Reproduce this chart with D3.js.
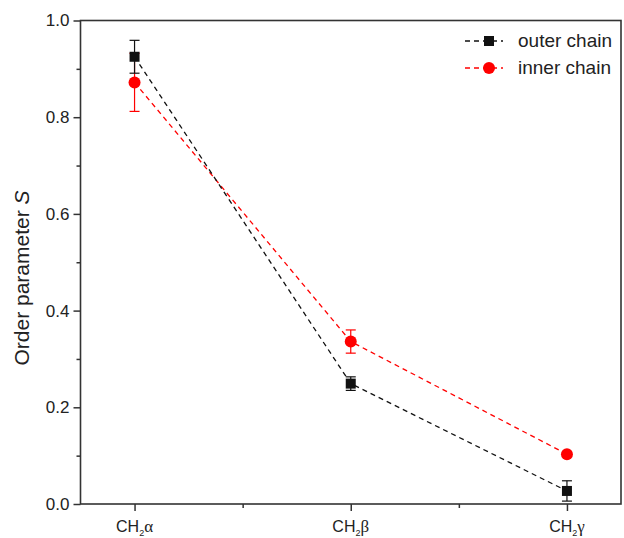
<!DOCTYPE html>
<html>
<head>
<meta charset="utf-8">
<script src="https://cdn.jsdelivr.net/npm/d3@7"></script>
<style>
  body { margin: 0; background: #fff; }
  svg text { font-family: "Liberation Sans", Arial, sans-serif; fill: #222; }
</style>
</head>
<body>
<div id="chart"></div>
<script>
// data
var positions = ["α", "β", "γ"];
var outerValues = [0.925, 0.249, 0.027];
var outerErrors = [0.034, 0.014, 0.021];
var innerValues = [0.872, 0.336, 0.103];
var innerErrors = [0.060, 0.024, 0.004];
var yTicks = [0, 0.2, 0.4, 0.6, 0.8, 1.0];

var width = 624, height = 538;
var plotLeft = 80.5, plotRight = 621, plotTop = 20.5, plotBottom = 504;

var svg = d3.select('#chart').append('svg')
  .attr('width', width)
  .attr('height', height);

var x = d3.scaleLinear().domain([0.75, 3.25]).range([plotLeft, plotRight]);
var y = d3.scaleLinear().domain([0, 1]).range([plotBottom, plotTop]);

var axisColor = '#333';

// frame
svg.append('rect')
  .attr('x', plotLeft).attr('y', plotTop)
  .attr('width', plotRight - plotLeft).attr('height', plotBottom - plotTop)
  .attr('fill', 'none')
  .attr('stroke', axisColor)
  .attr('stroke-width', 1.6);

// y axis: major + minor
var yAxis = d3.axisLeft(y).tickValues(yTicks).tickFormat(d3.format('.1f'))
  .tickSizeInner(7).tickSizeOuter(0).tickPadding(4);
var gy = svg.append('g').attr('transform', 'translate(' + plotLeft + ',0)').call(yAxis);
gy.select('.domain').remove();
gy.selectAll('.tick line').attr('stroke', axisColor).attr('stroke-width', 1.5);
gy.selectAll('.tick text').style('font-size', '17px').attr('fill', '#222');

var gyMinor = svg.append('g').attr('transform', 'translate(' + plotLeft + ',0)')
  .call(d3.axisLeft(y).tickValues([0.1, 0.3, 0.5, 0.7, 0.9]).tickSize(4).tickFormat(''));
gyMinor.select('.domain').remove();
gyMinor.selectAll('.tick line').attr('stroke', axisColor).attr('stroke-width', 1.5);

// x axis
var xAxis = d3.axisBottom(x).tickValues([1, 2, 3]).tickFormat('')
  .tickSizeInner(7).tickSizeOuter(0);
var gx = svg.append('g').attr('transform', 'translate(0,' + plotBottom + ')').call(xAxis);
gx.select('.domain').remove();
gx.selectAll('.tick line').attr('stroke', axisColor).attr('stroke-width', 1.5);

var gxMinor = svg.append('g').attr('transform', 'translate(0,' + plotBottom + ')')
  .call(d3.axisBottom(x).tickValues([1.5, 2.5]).tickSize(4).tickFormat(''));
gxMinor.select('.domain').remove();
gxMinor.selectAll('.tick line').attr('stroke', axisColor).attr('stroke-width', 1.5);

// x labels CH2α etc
positions.forEach(function(p, i) {
  var t = svg.append('text')
    .attr('x', x(i + 1))
    .attr('y', 532)
    .attr('text-anchor', 'middle')
    .style('font-size', '16px');
  t.append('tspan').text('CH');
  t.append('tspan').attr('dy', 4).style('font-size', '9px').text('2');
  t.append('tspan').attr('dy', -4)
    .style('font-family', '"Liberation Serif", "Times New Roman", serif')
    .style('font-size', '17px')
    .text(p);
});

// y label
var yl = svg.append('text')
  .attr('transform', 'translate(29,' + 278 + ') rotate(-90)')
  .attr('text-anchor', 'middle')
  .style('font-size', '21px');
yl.append('tspan').text('Order parameter ');
yl.append('tspan').style('font-style', 'italic').text('S');

function drawSeries(values, errors, color, shape) {
  var pts = values.map(function(v, i) { return { x: i + 1, y: v, e: errors[i] }; });
  var line = d3.line().x(function(d) { return x(d.x); }).y(function(d) { return y(d.y); });

  svg.append('path')
    .attr('d', line(pts))
    .attr('fill', 'none')
    .attr('stroke', color)
    .attr('stroke-width', 1.3)
    .attr('stroke-dasharray', '5,4');

  var g = svg.append('g');
  pts.forEach(function(d) {
    var cx = x(d.x);
    g.append('line')
      .attr('x1', cx).attr('x2', cx)
      .attr('y1', y(d.y - d.e)).attr('y2', y(d.y + d.e))
      .attr('stroke', color).attr('stroke-width', 1.2);
    [d.y - d.e, d.y + d.e].forEach(function(v) {
      g.append('line')
        .attr('x1', cx - 5).attr('x2', cx + 5)
        .attr('y1', y(v)).attr('y2', y(v))
        .attr('stroke', color).attr('stroke-width', 1.2);
    });
    if (shape === 'square') {
      g.append('rect')
        .attr('x', cx - 5).attr('y', y(d.y) - 5)
        .attr('width', 10).attr('height', 10)
        .attr('fill', color);
    } else {
      g.append('circle')
        .attr('cx', cx).attr('cy', y(d.y)).attr('r', 6)
        .attr('fill', color);
    }
  });
}

drawSeries(innerValues, innerErrors, '#f00', 'circle');
drawSeries(outerValues, outerErrors, '#111', 'square');

// legend
var legend = [
  { name: 'outer chain', color: '#111', shape: 'square' },
  { name: 'inner chain', color: '#f00', shape: 'circle' }
];
legend.forEach(function(l, i) {
  var ly = 41 + i * 27;
  svg.append('line')
    .attr('x1', 465).attr('x2', 503)
    .attr('y1', ly).attr('y2', ly)
    .attr('stroke', l.color).attr('stroke-width', 1.3)
    .attr('stroke-dasharray', '5,4');
  if (l.shape === 'square') {
    svg.append('rect').attr('x', 489 - 5).attr('y', ly - 5)
      .attr('width', 10).attr('height', 10).attr('fill', l.color);
  } else {
    svg.append('circle').attr('cx', 489).attr('cy', ly).attr('r', 6).attr('fill', l.color);
  }
  svg.append('text')
    .attr('x', 518).attr('y', ly + 6)
    .style('font-size', '19px')
    .text(l.name);
});
</script>
</body>
</html>
